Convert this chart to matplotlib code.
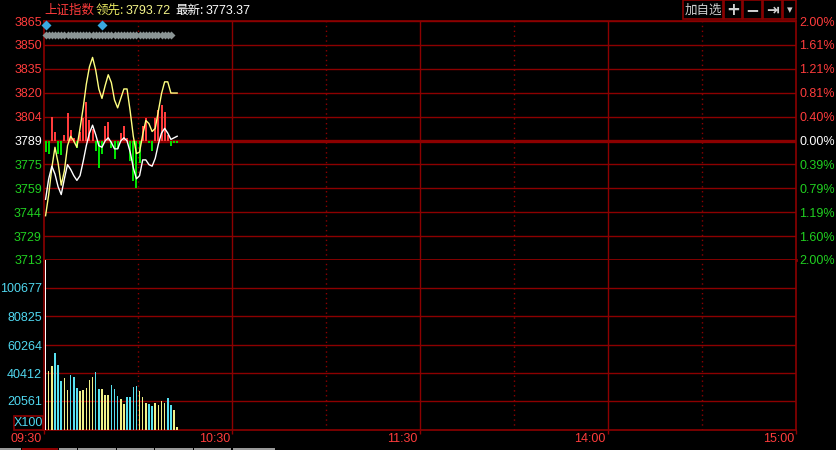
### intraday chart of the Shanghai index, first minutes of the session

import matplotlib
matplotlib.use("Agg")
import matplotlib.pyplot as plt
import matplotlib.transforms as mtransforms
from matplotlib.patches import Rectangle
import numpy as np

# ---- data ----
prev_close = 3789.3
price_labels = ["3713", "3729", "3744", "3759", "3775", "3789",
                "3804", "3820", "3835", "3850", "3865"]
pct_labels = ["2.00%", "1.60%", "1.19%", "0.79%", "0.39%", "0.00%",
              "0.40%", "0.81%", "1.21%", "1.61%", "2.00%"]
vol_ticks = [20561, 40412, 60264, 80825, 100677]
time_marks = [0, 60, 120, 180, 240]
time_labels = ["09:30", "10:30", "11:30", "14:00", "15:00"]
half_hours = [30, 90, 150, 210]

# white line: index, yellow line: leading index
index_line = [3752, 3765, 3773, 3768, 3760, 3755, 3765, 3774, 3771, 3767,
              3764, 3767, 3776, 3786, 3794, 3799, 3793, 3786, 3785, 3789,
              3791, 3788, 3784, 3784, 3789, 3791, 3789, 3782, 3772, 3765,
              3767, 3777, 3777, 3774, 3773, 3778, 3787, 3794, 3797, 3794,
              3790, 3791, 3792]
lead_line = [3741.6, 3755, 3772, 3785, 3775, 3761, 3770, 3786, 3792, 3789,
             3785, 3797, 3810, 3825, 3836, 3842, 3834, 3822, 3816, 3824,
             3831, 3826, 3815, 3810, 3816, 3822, 3822, 3808, 3792, 3781,
             3782, 3793, 3802, 3800, 3795, 3797, 3808, 3819, 3826.5, 3826.5,
             3819.4, 3819.4, 3819.4]
# red / green strength bars around the previous close
strength = [-7.6, -8.3, 14.6, 5.1, -8.3, -9.5, 3.2, 17.2, 6.4, 1.9,
            -4.5, 5.1, 14.0, 24.2, 12.7, 7.6, -6.4, -17.2, -8.3, 9.5,
            11.5, -4.5, -11.5, -5.7, 4.5, 9.5, 1.9, -12.7, -25.4, -29.9,
            -14.0, 9.5, 14.0, -1.9, -6.4, 14.0, 19.1, 22.3, 17.8, 3.2,
            -3.2, -1.3, -1.3]
# volume, in units of 100
volume = [125000, 41800, 45400, 54600, 46100, 34700, 36900, 28400, 39000, 37600,
          29800, 27700, 28400, 29800, 35500, 37600, 41100, 29100, 29100, 24800,
          24800, 31900, 29100, 24100, 22000, 18400, 23400, 23400, 30500, 31200,
          27700, 23400, 19100, 18400, 17000, 19100, 17700, 20600, 19100, 22700,
          17700, 14200, 2100]
vol_kind = ['w', 'y', 'y', 'c', 'c', 'c', 'y', 'y', 'c', 'c',
            'c', 'y', 'y', 'y', 'y', 'y', 'c', 'c', 'y', 'y',
            'y', 'c', 'c', 'c', 'y', 'y', 'c', 'c', 'c', 'c',
            'y', 'y', 'y', 'c', 'c', 'y', 'y', 'y', 'y', 'c',
            'c', 'y', 'y']
event_minutes = [0, 18]
note_minutes = [0, 1, 2, 3, 4, 5, 6, 7, 8, 9, 10, 11, 12, 13, 14, 15, 16, 17,
                18, 19, 20, 21, 22, 23, 24, 25, 26, 27, 28, 29, 30, 31, 32, 33,
                34, 35, 36, 37, 38, 39, 40]

# ---- colours ----
GRID = '#8c0000'
RED = '#ff3c3c'
GREEN = '#20d020'
CYAN = '#50d8f0'
YELLOW = '#f5f58a'
vol_colors = {'w': '#ffffff', 'y': '#f0f088', 'c': '#58e0f0'}

W, H = 836, 450
NUM = 'Liberation Sans'
CJK = ['Noto Sans CJK SC', 'DejaVu Sans']


def fx(x):
    return x / W


def fy(y):
    return 1 - y / H


def main():
    fig = plt.figure(figsize=(W / 100, H / 100), dpi=100, facecolor='black')
    axp = fig.add_axes([fx(44), fy(260), fx(796) - fx(44), fy(21) - fy(260)])
    axv = fig.add_axes([fx(44), fy(430), fx(796) - fx(44), fy(260) - fy(430)], sharex=axp)

    lo, hi = prev_close * 0.98, prev_close * 1.02
    grid_pos = np.linspace(lo, hi, 11)
    minutes = np.arange(len(index_line)) + 0.5

    for a in (axp, axv):
        a.set_facecolor('black')
        for s in a.spines.values():
            s.set_color(GRID)
            s.set_linewidth(1.2)
        for m in time_marks[1:-1]:
            a.axvline(m, color=GRID, lw=1.0)
        for m in half_hours:
            a.axvline(m, color=GRID, lw=1.0, ls=(0, (1, 2.5)))
    axp.set_xlim(0, 240)

    # ---- price panel ----
    axp.set_ylim(lo, hi)
    for i, g in enumerate(grid_pos):
        lw = 2.4 if i == 5 else 1.0
        axp.axhline(g, color=GRID, lw=lw, zorder=1)
    axp.spines['bottom'].set_linewidth(2.0)

    for x, s in zip(minutes, strength):
        c = RED if s > 0 else '#00e000'
        axp.vlines(x, prev_close, prev_close + s, color=c, lw=1.2, zorder=2,
                   antialiased=False)
    axp.plot(minutes, lead_line, color='#ffff80', lw=1.0, zorder=3)
    axp.plot(minutes, index_line, color='white', lw=1.0, zorder=4)

    tr = mtransforms.blended_transform_factory(axp.transData, axp.transAxes)
    axp.plot(np.array(note_minutes) + 0.5, [0.941] * len(note_minutes), 'D',
             color='#8a9494', ms=4.2, mec='none', transform=tr, clip_on=False, zorder=5)
    axp.plot(np.array(event_minutes) + 0.5, [0.983] * len(event_minutes), 'D',
             color='#3aa8e0', ms=5.5, mec='none', transform=tr, clip_on=False, zorder=5)

    axp.set_yticks(grid_pos)
    axp.set_yticklabels(price_labels, fontsize=9, family=NUM)
    axp.tick_params(axis='y', length=0, pad=1.5)
    axp.tick_params(axis='x', bottom=False, labelbottom=False)
    for i, t in enumerate(axp.get_yticklabels()):
        t.set_color(GREEN if i < 5 else ('white' if i == 5 else RED))

    ax2 = axp.twinx()
    ax2.set_ylim(lo, hi)
    ax2.set_yticks(grid_pos)
    ax2.set_yticklabels(pct_labels, fontsize=9, family=NUM)
    ax2.tick_params(axis='y', length=0, pad=2.5)
    for s in ax2.spines.values():
        s.set_visible(False)
    for i, t in enumerate(ax2.get_yticklabels()):
        t.set_color(GREEN if i < 5 else ('white' if i == 5 else RED))

    # ---- volume panel ----
    vmax = 100677 * 170 / 142
    axv.set_ylim(0, vmax)
    for v in vol_ticks:
        axv.axhline(v, color=GRID, lw=1.0, zorder=1)
    axv.spines['top'].set_visible(False)
    axv.bar(minutes, volume, width=0.5, color=[vol_colors[k] for k in vol_kind],
            zorder=3, linewidth=0, antialiased=False)
    axv.set_yticks(vol_ticks)
    axv.set_yticklabels([str(v) for v in vol_ticks], fontsize=9, family=NUM, color=CYAN)
    axv.tick_params(axis='y', length=0, pad=1.5)
    axv.set_xticks(time_marks)
    axv.set_xticklabels([])
    axv.tick_params(axis='x', length=3, color=GRID, width=1.0)
    for m, lab in zip(time_marks, time_labels):
        axv.annotate(lab, xy=(m, 0), xycoords=('data', 'axes fraction'),
                     xytext=(-1.5, -2.0), textcoords='offset points',
                     ha='right', va='top', fontsize=9, family=NUM, color=RED)

    # X100 box
    fig.add_artist(Rectangle((fx(13.5), fy(430)), fx(42.5) - fx(13.5), fy(416) - fy(430),
                             transform=fig.transFigure, fill=False, ec=GRID, lw=1.2))
    fig.text(fx(28), fy(423.5), "X100", fontsize=9, family=NUM, color=CYAN,
             ha='center', va='center')

    # header
    fig.text(fx(44), fy(10.5), "上证指数", fontsize=9, family=CJK, color=RED, va='center')
    fig.text(fx(96), fy(10.5), "领先:", fontsize=9, family=CJK, color='#e8e860', va='center')
    fig.text(fx(126), fy(10.5), "3793.72", fontsize=9, family=NUM, color=YELLOW, va='center')
    fig.text(fx(175), fy(10.5), "最新:", fontsize=9, family=CJK, color='white', va='center')
    fig.text(fx(206), fy(10.5), "3773.37", fontsize=9, family=NUM, color='white', va='center')

    # buttons top right
    buttons = [(683, 723, "加自选", CJK, 9, 'normal'),
               (724, 742, "+", ['DejaVu Sans'], 12, 'bold'),
               (743, 762, "−", ['DejaVu Sans'], 12, 'bold'),
               (763, 782, "⇥", ['DejaVu Sans'], 11, 'bold'),
               (783, 796, "▾", ['DejaVu Sans'], 8, 'normal')]
    for x0, x1, lab, fam, fs, fw in buttons:
        fig.add_artist(Rectangle((fx(x0), fy(19)), fx(x1) - fx(x0), fy(0.5) - fy(19),
                                 transform=fig.transFigure, fill=False, ec=GRID, lw=1.2))
        fig.text(fx((x0 + x1) / 2), fy(10), lab, fontsize=fs, family=fam,
                 fontweight=fw, color='#d0d0d0', ha='center', va='center')

    # tabs along the bottom edge
    tabs = [(0, 21, '#9a9a9a'), (22, 58, '#8c0000'), (59, 77, '#9a9a9a'),
            (78, 116, '#9a9a9a'), (117, 154, '#9a9a9a'), (155, 193, '#9a9a9a'),
            (194, 231, '#9a9a9a'), (233, 275, '#9a9a9a')]
    for x0, x1, c in tabs:
        fig.add_artist(Rectangle((fx(x0), fy(450)), fx(x1) - fx(x0), fy(447.5) - fy(450),
                                 transform=fig.transFigure, color=c, lw=0))

    fig.savefig("out.png", dpi=100, facecolor='black')


if __name__ == "__main__":
    main()
